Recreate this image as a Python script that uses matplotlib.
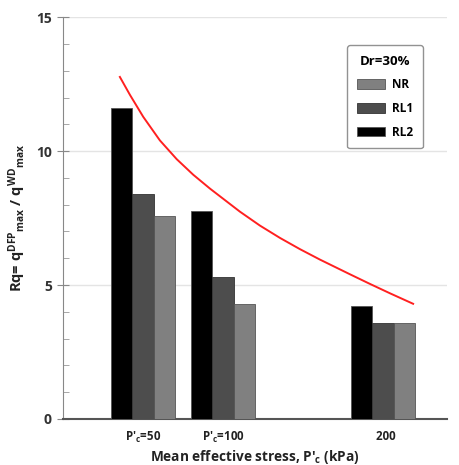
import matplotlib.pyplot as plt
import numpy as np

# data
stress = [50, 100, 200]
tick_labels = ["P'$_\\mathregular{c}$=50", "P'$_\\mathregular{c}$=100", "  200"]
rl2 = [11.6, 7.76, 4.22]
rl1 = [8.4, 5.3, 3.57]
nr = [7.57, 4.29, 3.6]

# red trend curve
curve_x = [35.6, 41.9, 50.2, 60.6, 71.1, 81.4, 91.9, 110.6, 123.1,
           135.6, 148.1, 160.6, 179.4, 191.9, 204.4, 218.8]
curve_y = [12.77, 12.10, 11.28, 10.40, 9.70, 9.12, 8.60, 7.74, 7.22,
           6.76, 6.34, 5.95, 5.40, 5.04, 4.69, 4.30]

plt.rcParams['font.family'] = ['Open Sans', 'DejaVu Sans']
plt.rcParams['font.weight'] = 'bold'
plt.rcParams['axes.labelweight'] = 'bold'
plt.rcParams['mathtext.fontset'] = 'custom'
plt.rcParams['mathtext.rm'] = 'Open Sans:bold'
plt.rcParams['mathtext.it'] = 'Open Sans:bold'
plt.rcParams['mathtext.bf'] = 'Open Sans:bold'

fig = plt.figure(figsize=(4.59, 4.65), dpi=100)
ax = fig.add_axes([0.137, 0.099, 0.837, 0.864])

w = 13.4
x = np.array(stress)
ax.bar(x - w, rl2, w, color='black', edgecolor='#555555', linewidth=0.6, label='RL2', zorder=3)
ax.bar(x, rl1, w, color='#4d4d4d', edgecolor='#333333', linewidth=0.6, label='RL1', zorder=3)
ax.bar(x + w, nr, w, color='#808080', edgecolor='#555555', linewidth=0.6, label='NR', zorder=3)

ax.plot(curve_x, curve_y, color='#ff2020', linewidth=1.4, zorder=4,
        solid_joinstyle='round')

ax.set_xlim(0, 240)
ax.set_ylim(0, 15)
ax.set_yticks([0, 5, 10, 15])
ax.set_yticks(range(0, 16), minor=True)
ax.set_xticks(stress)
ax.set_xticklabels(tick_labels, fontsize=8.3, color='#222222')
ax.tick_params(axis='x', length=0, pad=8)
ax.tick_params(axis='y', which='major', direction='inout', length=8, color='#888888',
               labelsize=10, labelcolor='#333333', pad=4)
ax.tick_params(axis='y', which='minor', direction='in', length=4, color='#999999')

ax.grid(axis='y', which='major', color='#e4e4e4', linewidth=1, zorder=0)
for s in ['top', 'right']:
    ax.spines[s].set_visible(False)
ax.spines['left'].set_color('#888888')
ax.spines['bottom'].set_color('#555555')
ax.spines['bottom'].set_linewidth(1.5)

ax.set_ylabel("Rq= q$^{\\mathregular{DFP}}$$_{\\mathregular{max}}$ / q$^{\\mathregular{WD}}$$_{\\mathregular{max}}$",
              fontsize=10.5, color='#222222', labelpad=6)
ax.set_xlabel("Mean effective stress, P'$_\\mathregular{c}$ (kPa)", fontsize=9.8,
              color='#222222', labelpad=2)

handles, labels = ax.get_legend_handles_labels()
leg = ax.legend(handles[::-1], labels[::-1], title='Dr=30%', loc='upper left',
                bbox_to_anchor=(0.725, 0.945), fontsize=8.5, title_fontsize=9.5,
                handlelength=2.4, handleheight=0.9, frameon=True, fancybox=True,
                edgecolor='#777777', borderpad=0.8, labelspacing=0.9, handletextpad=0.6)
leg.get_title().set_fontweight('bold')
leg.get_frame().set_linewidth(1)

fig.savefig('out.png', dpi=100)
